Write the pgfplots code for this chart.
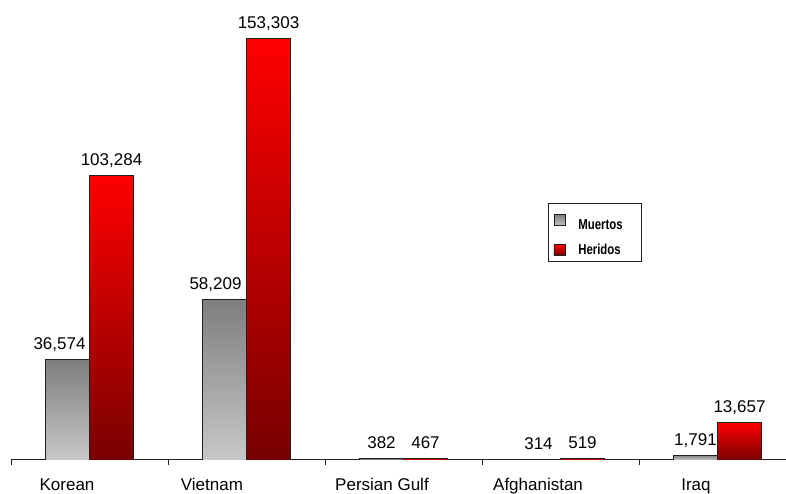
\documentclass[border=0pt]{standalone}
\usepackage{fontspec}
\setmainfont{Liberation Sans}
\usepackage{graphicx}
\usepackage{pgfplots}
\pgfplotsset{compat=1.18}

\definecolor{grtop}{HTML}{7E7E7E}
\definecolor{grmid}{HTML}{A0A0A0}
\definecolor{grbot}{HTML}{C8C8C8}
\definecolor{rdtop}{HTML}{FF0000}
\definecolor{rdmid}{HTML}{D40000}
\definecolor{rdbot}{HTML}{780000}
\definecolor{edge}{HTML}{202020}

\pgfplotsset{
  barbase/.style={ybar, bar width=44pt, draw=edge, line width=0.9pt,
    legend image code/.code={\draw[##1, line width=0.8pt] (0pt,-5.5pt) rectangle (11pt,5.5pt);}},
  muerto/.style={barbase, bar shift=-22pt, top color=grtop, middle color=grmid, bottom color=grbot,
    nodes near coords style={xshift=-22pt}},
  herido/.style={barbase, bar shift=22pt, top color=rdtop, middle color=rdmid, bottom color=rdbot,
    nodes near coords style={xshift=22pt}},
}

\begin{document}
\begin{tikzpicture}
\begin{axis}[
  at={(11pt,34pt)}, anchor=south west,
  scale only axis,
  width=775pt, height=460pt,
  xmin=-0.5, xmax=4.4363,
  ymin=0, ymax=167210,
  hide y axis,
  axis x line=bottom,
  x axis line style={-, line width=1pt, color=edge},
  xtick={-0.5,0.5,1.5,2.5,3.5},
  xticklabels={},
  tick align=outside,
  major tick length=5pt,
  x tick style={line width=1pt, color=edge},
  extra x ticks={-0.143,0.780,1.863,2.857,3.863},
  extra x tick labels={Korean,Vietnam,Persian Gulf,Afghanistan,Iraq},
  extra x tick style={major tick length=0pt, tick label style={font=\fontsize{17}{20}\selectfont, anchor=base, yshift=-31pt}},
  /pgf/number format/assume math mode=true,
  nodes near coords={\pgfmathprintnumber[fixed,precision=0,1000 sep={,}]{\pgfplotspointmeta}},
  nodes near coords style={font=\fontsize{17}{20}\selectfont, anchor=base, yshift=10pt, text=black},
  legend style={at={(rel axis cs:0.6929,0.5587)}, anchor=north west,
    draw=edge, line width=1pt, inner xsep=5pt, inner ysep=4pt,
    row sep=9pt, font=\bfseries\fontsize{12}{13}\selectfont},
  legend cell align=left,
]
% Muertos
\addplot[muerto, nodes near coords style={xshift=-8pt}] coordinates {(0,36574)};
\addlegendentry{\rule{0pt}{20pt}\hspace{11pt}\scalebox{0.95}[1.2]{Muertos}\rule{12pt}{0pt}}
% Heridos
\addplot[herido] coordinates {(0,103284)};
\addlegendentry{\hspace{11pt}\scalebox{0.95}[1.2]{Heridos}}
\addplot[muerto, forget plot, nodes near coords style={xshift=-9pt}] coordinates {(1,58209)};
\addplot[herido, forget plot] coordinates {(1,153303)};
\addplot[muerto, forget plot] coordinates {(2,382)};
\addplot[herido, forget plot] coordinates {(2,467)};
\addplot[muerto, forget plot] coordinates {(3,314)};
\addplot[herido, forget plot] coordinates {(3,519)};
\addplot[muerto, forget plot] coordinates {(4,1791)};
\addplot[herido, forget plot] coordinates {(4,13657)};
\end{axis}
\pgfresetboundingbox
\path[use as bounding box] (0,0) rectangle (786pt,494pt);
\end{tikzpicture}
\end{document}
